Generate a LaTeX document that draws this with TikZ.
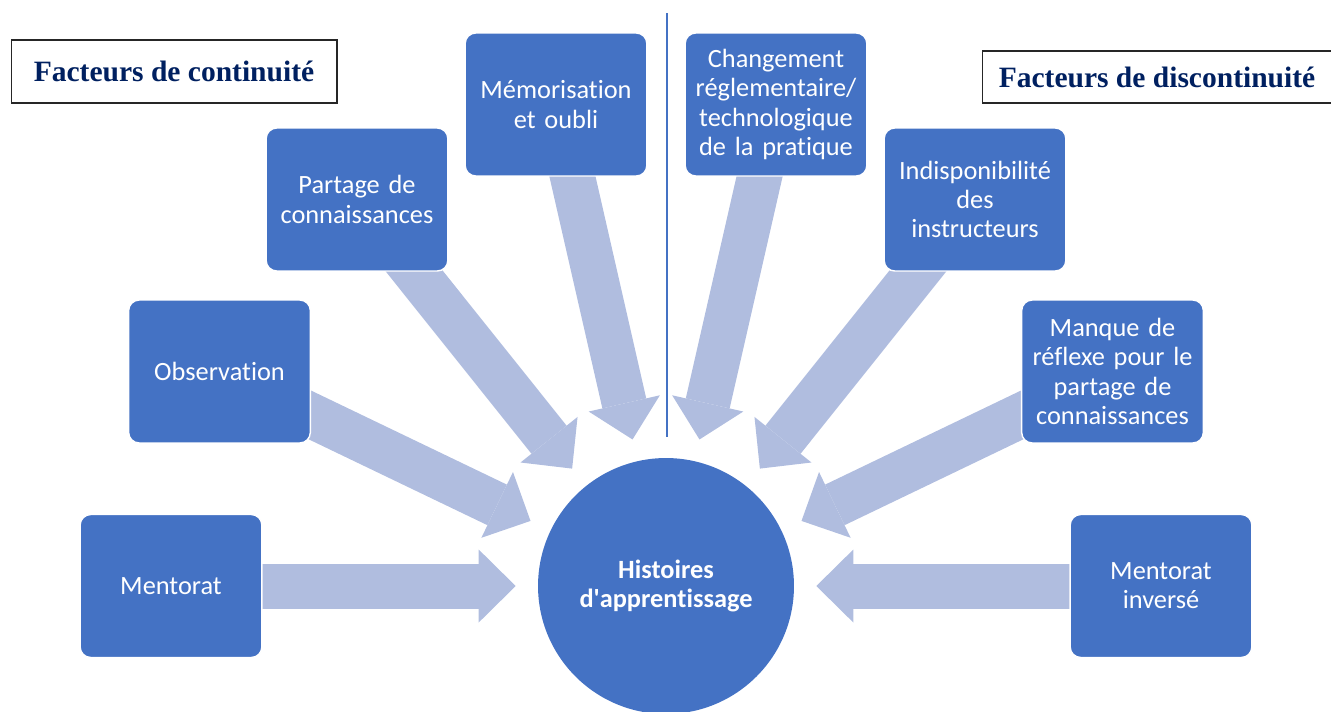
\documentclass[tikz,border=0pt]{standalone}
\usepackage{fontspec}
\setmainfont{Carlito}[Ligatures={NoCommon}]
\newfontfamily\headfont{Liberation Serif}
\usetikzlibrary{arrows.meta,shapes}
\pgfdeclarelayer{background}
\pgfsetlayers{background,main}
\definecolor{boxblue}{HTML}{4472C4}
\definecolor{flowblue}{HTML}{B0BDDF}
\definecolor{headnavy}{HTML}{002060}
\tikzstyle{factor}=[rectangle,rounded corners=6pt,fill=boxblue,draw=white,line width=0.8pt,minimum width=3.6cm,minimum height=2.86cm,text width=3.4cm,align=center,text=white,font=\fontsize{15}{16.6}\selectfont]
\tikzstyle{hub}=[circle,fill=boxblue,minimum size=5.12cm,inner sep=0pt,align=center,text=white,font=\fontsize{15}{16.6}\selectfont\bfseries]
\tikzstyle{heading}=[rectangle,draw=black!85,line width=0.6pt,inner sep=0pt,text=headnavy,font=\headfont\fontsize{16.8}{19}\selectfont\bfseries]
\tikzstyle{flow}=[draw=flowblue,line width=0.9cm,-{Triangle[length=0.74cm,width=1.46cm,line width=0pt]},shorten >=0.44cm]
\tikzstyle{divider}=[draw=boxblue,line width=0.8pt]

\begin{document}
\begin{tikzpicture}[x=0.02cm,y=-0.02cm]
    \useasboundingbox (0,0) rectangle (1331,711);
    % First we draw the factors and the centre
    \foreach \pos/\name/\txt in {{(171,586)/mentorat/Mentorat}, {(219.5,371.5)/observation/Observation}, {(357,199.5)/partage/{Partage de\\connaissances}}, {(556,104.5)/memo/{Mémorisation\\et oubli}}, {(776,104.5)/changement/{Changement\\réglementaire/\\technologique\\de la pratique}}, {(975,199.5)/indispo/{Indisponibilité\\des\\instructeurs}}, {(1112.5,371.5)/manque/{Manque de\\réflexe pour le\\partage de\\connaissances}}, {(1161,586)/inverse/{Mentorat\\inversé}}}
        \node[factor] (\name) at \pos {\txt};
    \node[hub] (histoires) at (666,586) {Histoires\\d\textquotesingle apprentissage};

    % Headings of the two sides
    \node[heading,minimum width=6.52cm,minimum height=1.26cm] (continuite) at (174,71.5) {Facteurs de continuité};
    \node[heading,minimum width=6.98cm,minimum height=1.04cm] (discontinuite) at (1157,77) {Facteurs de discontinuité};
    \coordinate (split top) at (667,13);
    \coordinate (split end) at (667,437);
    \path[divider] (split top) -- (split end);

    % Connect factors with the centre
    \begin{pgfonlayer}{background}
    \foreach \source in {mentorat,observation,partage,memo,changement,indispo,manque,inverse}
        \path[flow] (\source.center) -- (histoires);
    \end{pgfonlayer}
\end{tikzpicture}
\end{document}
